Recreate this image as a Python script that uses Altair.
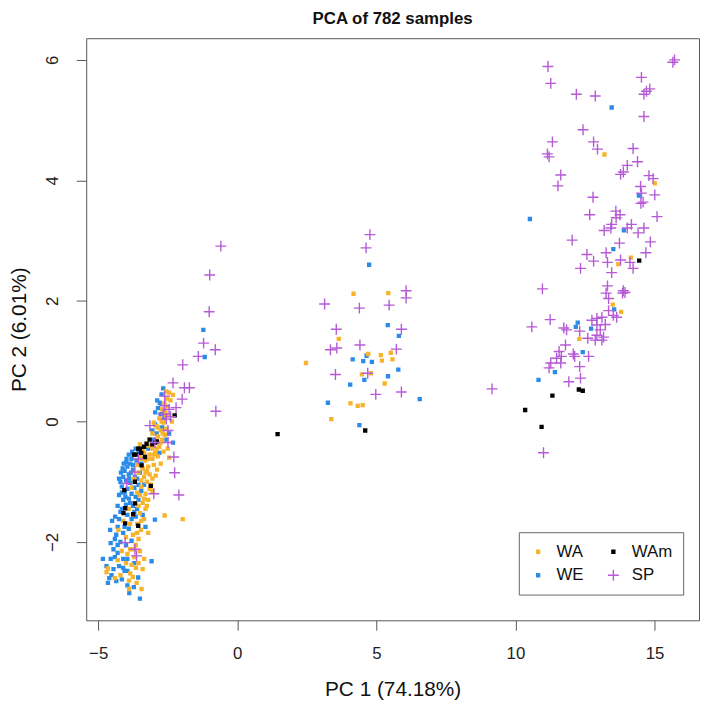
import altair as alt
import pandas as pd

# ---- data: (PC1, PC2) pairs per population ----
WE = [
    (-2.79, 0.31), (-2.66, 0.55), (-2.72, 0.45), (-2.85, 0.22), (-2.75, 0.12), (-2.62, 0.05),
    (-2.31, -0.35), (-2.45, -0.20), (-2.95, -0.05), (-3.05, -0.15),
    (-3.55, -0.50), (-3.70, -0.55), (-3.80, -0.62), (-3.85, -0.70), (-3.95, -0.75), (-4.05, -0.82),
    (-3.75, -0.80), (-3.90, -0.88), (-4.10, -0.92), (-4.00, -0.98),
    (-4.20, -1.00), (-3.85, -1.02), (-4.15, -1.08), (-3.95, -1.12), (-4.05, -1.18), (-3.70, -1.10),
    (-3.60, -0.95), (-3.50, -0.85), (-4.25, -0.95), (-4.18, -0.85),
    (-3.80, -1.20), (-3.65, -1.25), (-3.90, -1.28), (-4.10, -1.30), (-3.45, -1.15), (-3.35, -1.05),
    (-3.55, -1.30), (-4.00, -1.38), (-3.75, -1.40), (-3.60, -1.45),
    (-4.39, -1.58), (-4.20, -1.50), (-3.95, -1.55), (-3.80, -1.62), (-3.65, -1.58), (-4.57, -1.80),
    (-4.30, -1.75), (-4.10, -1.85), (-3.90, -1.78), (-2.96, -1.63),
    (-4.40, -1.95), (-4.20, -2.00), (-4.00, -2.05), (-3.80, -1.98), (-4.45, -2.12), (-4.30, -2.18),
    (-4.83, -2.28), (-4.55, -2.28), (-4.40, -2.25), (-4.10, -2.28),
    (-3.95, -2.28), (-3.08, -2.32), (-4.10, -2.43), (-3.95, -2.48), (-4.05, -2.48), (-4.60, -2.60),
    (-4.52, -2.55), (-4.65, -2.68), (-3.56, -2.59), (-3.88, -2.85),
    (-3.50, -2.94), (-3.70, -2.35), (-4.25, -2.40), (-3.30, -0.60), (-3.45, -0.70), (-3.20, -0.45),
    (-3.00, -0.30), (-2.70, -0.10), (-3.62, -0.65), (-3.75, -0.72),
    (-4.08, -0.70), (-3.98, -0.62), (-3.68, -0.92), (-3.88, -0.95), (-4.02, -1.25), (-3.55, -1.05),
    (-4.30, -1.40), (-3.40, -1.55), (-3.30, -1.75), (-4.50, -1.65),
    (-3.65, -0.45), (-3.78, -0.50), (-3.90, -0.55), (-4.00, -0.68), (-4.12, -0.78), (-3.82, -0.85),
    (-4.15, -1.18), (-4.25, -1.22), (-3.85, -1.35), (-3.70, -1.50), (-4.15, -1.45), (-4.25, -1.62),
    (-4.05, -1.75), (-4.35, -1.88), (-4.55, -2.02), (-4.30, -2.05), (-4.70, -2.40), (-4.45, -2.45),
    (-4.35, -2.65), (-4.15, -2.62), (-3.72, -2.75), (-3.95, -2.72), (-2.95, 0.15), (-2.88, 0.35),
    (-2.65, 0.20), (-2.90, -0.20), (-2.55, -0.30), (-2.80, -0.52),
    (-1.22, 1.52), (-1.17, 1.07),
    (4.74, 2.60), (5.41, 1.60), (5.81, 1.42), (4.15, 1.03), (4.53, 1.00), (4.84, 0.99), (4.65, 1.09),
    (5.79, 0.86), (5.42, 0.75), (4.57, 0.69), (4.06, 0.61), (3.26, 0.31), (6.56, 0.37), (4.39, -0.06),
    (13.46, 5.21), (10.52, 3.36), (14.44, 3.75), (13.90, 3.17), (13.52, 2.86), (12.24, 1.64),
    (12.17, 1.57), (12.72, 1.54), (13.55, 1.86), (12.42, 1.15), (11.42, 0.82), (10.83, 0.69),
]

WA = [
    (-2.31, 0.44), (-2.55, 0.50), (-2.40, 0.35), (-2.50, 0.25), (-2.62, 0.30), (-2.70, 0.20),
    (-2.45, 0.10), (-2.58, 0.15), (-2.80, 0.05), (-2.35, 0.00),
    (-2.65, -0.02), (-2.90, -0.08), (-2.75, -0.15), (-2.55, -0.12), (-3.05, -0.20), (-2.85, -0.25),
    (-2.60, -0.22), (-3.15, -0.30), (-2.95, -0.35), (-2.70, -0.30),
    (-3.25, -0.40), (-3.05, -0.45), (-2.80, -0.42), (-3.40, -0.48), (-3.15, -0.55), (-2.95, -0.52),
    (-3.50, -0.58), (-3.30, -0.65), (-3.05, -0.62), (-2.85, -0.58),
    (-3.60, -0.72), (-3.40, -0.78), (-3.20, -0.75), (-3.00, -0.72), (-2.93, -0.90), (-3.15, -0.88),
    (-3.35, -0.92), (-3.55, -0.85), (-3.25, -1.00), (-3.10, -1.05),
    (-3.45, -1.08), (-3.05, -1.15), (-3.30, -1.20), (-3.20, -1.30), (-3.40, -1.35), (-3.55, -1.40),
    (-3.30, -1.45), (-3.50, -1.52), (-2.61, -1.56), (-1.96, -1.62),
    (-3.46, -1.80), (-4.27, -1.80), (-3.60, -1.70), (-3.75, -1.88), (-3.55, -1.95), (-4.00, -1.92),
    (-3.65, -2.05), (-3.85, -2.12), (-3.50, -2.15), (-4.15, -2.15),
    (-3.70, -2.25), (-3.35, -2.28), (-4.65, -2.44), (-3.64, -2.43), (-3.80, -2.38), (-3.89, -2.64),
    (-3.89, -2.78), (-3.44, -2.78), (-4.40, -2.60), (-4.20, -2.55),
    (-3.75, -2.58), (-4.70, -2.50), (-3.95, -2.20), (-3.40, -2.45), (-2.88, -0.80), (-3.70, -0.95),
    (-3.80, -1.10), (-3.60, -1.18), (-3.90, -1.45), (-3.75, -1.55),
    (-3.65, -1.35), (-4.10, -1.65), (-3.85, -1.70), (-3.35, -1.62), (-3.20, -1.85), (-2.75, -0.70),
    (-2.50, -0.45), (-2.45, -0.60), (-2.65, -0.50), (-3.50, -0.38),
    (-3.10, -0.40), (-2.90, -0.45), (-3.00, -0.55), (-3.20, -0.62), (-3.35, -0.52), (-2.75, -0.35),
    (-2.68, -0.20), (-2.85, -0.10), (-3.00, -0.02), (-2.72, 0.00), (-2.60, 0.10), (-2.52, 0.38),
    (-2.45, 0.48), (-3.45, -0.62), (-3.25, -0.82), (-3.05, -0.95), (-3.45, -0.98), (-3.15, -1.12),
    (-3.35, -1.28), (-3.50, -1.22), (-3.25, -1.40), (-3.45, -1.65), (-3.60, -1.85), (-3.70, -2.12),
    (-3.55, -2.35), (-4.00, -2.35), (-3.62, -2.68), (-4.30, -2.30), (-3.85, -2.52), (-3.30, -0.85),
    (4.18, 2.12), (5.43, 2.13), (3.65, 1.37), (2.47, 0.97), (4.71, 1.12), (5.16, 1.10), (5.52, 1.14),
    (5.20, 1.01), (5.58, 1.03), (4.48, 0.78), (4.80, 0.80), (5.30, 0.63), (4.07, 0.30), (4.33, 0.26),
    (4.51, 0.27), (3.38, 0.04),
    (13.20, 4.43), (15.01, 3.95), (13.70, 2.61), (14.15, 2.72), (13.50, 1.94), (13.80, 1.82),
    (12.30, 1.37),
]

WAm = [
    (-2.25, 0.10), (-2.89, -0.33), (-2.95, -0.35), (-3.05, -0.38), (-3.26, -0.37), (-3.35, -0.42),
    (-3.50, -0.45), (-3.56, -0.45), (-3.72, -0.55), (-3.62, -0.55), (-3.32, -0.59), (-3.44, -0.73),
    (-3.68, -1.00), (-3.11, -1.07), (-4.06, -1.14), (-4.03, -1.44), (-3.68, -1.36), (-4.09, -1.52),
    (-3.74, -1.54), (-4.03, -1.69), (-3.56, -1.73), (-3.15, -0.30), (-3.45, -0.52),
    (1.45, -0.21), (4.60, -0.15), (14.45, 2.67), (11.33, 0.43), (12.28, 0.53), (12.42, 0.51),
    (10.35, 0.19), (10.94, -0.09),
]

SP = [
    (-0.59, 2.91), (-0.99, 2.43), (-1.01, 1.82), (-1.21, 1.30), (-0.79, 1.19), (-1.40, 1.08),
    (-1.96, 0.94), (-2.31, 0.64), (-1.90, 0.56), (-1.72, 0.56), (-1.98, 0.37), (-0.77, 0.17),
    (-2.61, 0.42), (-2.61, 0.26), (-2.45, 0.20), (-2.66, 0.12), (-2.40, 0.08), (-2.55, 0.04),
    (-2.20, 0.23), (-3.14, -0.07), (-2.49, -0.15), (-2.49, -0.35), (-2.96, -0.35), (-2.28, -0.59),
    (-3.56, -0.62), (-2.25, -0.85), (-3.68, -0.84), (-3.97, -1.03), (-3.00, -1.20), (-2.10, -1.22),
    (-4.03, -2.01), (-3.68, -2.12), (-3.62, -2.23),
    (4.77, 3.10), (4.63, 2.88), (6.07, 2.17), (6.07, 2.05), (3.14, 1.95), (4.39, 1.88), (5.46, 1.93),
    (3.56, 1.53), (5.90, 1.53), (4.41, 1.27), (3.35, 1.19), (3.58, 1.22), (5.72, 1.20), (3.53, 0.78),
    (4.69, 0.80), (4.98, 0.45), (5.90, 0.49),
    (15.72, 6.00), (15.66, 5.96), (11.17, 5.89), (11.27, 5.61), (14.53, 5.71), (14.83, 5.52),
    (14.71, 5.48), (14.62, 5.43), (12.19, 5.43), (12.87, 5.40), (14.62, 5.06), (12.43, 4.84),
    (11.33, 4.64), (12.81, 4.64), (12.95, 4.52), (11.15, 4.44), (11.21, 4.39), (14.23, 4.53),
    (14.39, 4.31), (14.02, 4.25), (13.88, 4.14), (13.78, 4.10), (11.63, 4.09), (11.53, 3.91),
    (14.80, 4.08), (14.95, 4.03), (14.50, 3.90), (15.01, 3.76), (14.53, 3.79), (14.59, 3.64),
    (14.51, 3.62), (12.79, 3.72), (12.67, 3.43), (13.61, 3.49), (13.76, 3.43), (13.62, 3.38),
    (15.09, 3.40), (13.46, 3.27), (13.43, 3.21), (13.19, 3.17), (14.17, 3.27), (14.02, 3.21),
    (14.62, 3.21), (14.41, 3.13), (12.04, 3.01), (13.74, 2.96), (14.85, 2.98), (12.57, 2.77),
    (12.81, 2.66), (12.34, 2.54), (13.26, 2.80), (13.31, 2.64), (13.46, 2.47), (14.69, 2.80),
    (13.78, 2.68), (14.12, 2.64), (14.23, 2.54),
    (10.97, 2.20), (13.31, 2.25), (13.26, 2.13), (13.35, 2.04), (13.88, 2.17), (13.94, 2.14),
    (13.85, 2.13), (13.35, 1.84), (13.52, 1.76), (13.64, 1.73), (11.25, 1.69), (10.59, 1.57),
    (11.74, 1.55), (11.84, 1.52), (12.75, 1.68), (12.93, 1.71), (13.11, 1.73), (13.23, 1.61),
    (12.93, 1.60), (13.05, 1.52), (12.93, 1.43), (13.17, 1.40), (12.87, 1.35), (13.11, 1.35),
    (12.60, 1.38), (12.31, 1.50), (11.80, 1.27), (11.57, 1.16), (11.65, 1.08), (11.48, 1.05),
    (12.08, 1.12), (12.13, 1.08), (12.63, 1.08), (11.63, 0.97), (11.27, 0.97), (11.21, 0.89),
    (12.31, 0.91), (12.34, 0.72), (11.92, 0.66), (9.16, 0.54), (11.01, -0.52),
]

# legend fills column by column: WA, WE in the first column, WAm, SP in the second
GROUPS = ["WA", "WE", "WAm", "SP"]
COLORS = ["#F6B42C", "#2B8CE8", "#000000", "#B65AD6"]
X_TICKS = [-5, 0, 5, 10, 15]
Y_TICKS = [-2, 0, 2, 4, 6]

SQUARE = "M-0.27,-0.27H0.27V0.27H-0.27Z"
PLUS = "M-1,0L1,0M0,-1L0,1"
SHAPES = [SQUARE, SQUARE, SQUARE, PLUS]

rows = []
for name, pts in [("WE", WE), ("WA", WA), ("WAm", WAm), ("SP", SP)]:
    for px, py in pts:
        rows.append({"pc1": px, "pc2": py, "group": name})
df = pd.DataFrame(rows)

FONT = "Liberation Sans"

legend = alt.Legend(
    title=None, orient="none", legendX=437, legendY=499, columns=2,
    padding=11, strokeColor="#666666", fillColor="white",
    labelFontSize=17, labelFont=FONT, labelColor="#111111",
    symbolSize=121, symbolStrokeWidth=1.4, labelOffset=10,
    columnPadding=21, rowPadding=6,
)

chart = alt.Chart(df).mark_point(
    filled=False, size=121, strokeWidth=1.4, opacity=1
).encode(
    x=alt.X("pc1:Q",
            scale=alt.Scale(domain=[-5.43, 16.6], nice=False, zero=False),
            axis=alt.Axis(values=X_TICKS, title="PC 1 (74.18%)", grid=False, domain=False,
                          tickSize=10, tickColor="#555555", labelFontSize=17, labelFont=FONT,
                          labelColor="#222222", labelPadding=16, titleFontSize=21,
                          titleFont=FONT, titleFontWeight="normal", titleColor="#111111",
                          titlePadding=17)),
    y=alt.Y("pc2:Q",
            scale=alt.Scale(domain=[-3.3, 6.36], nice=False, zero=False),
            axis=alt.Axis(values=Y_TICKS, title="PC 2 (6.01%)", grid=False, domain=False,
                          tickSize=10, tickColor="#555555", labelFontSize=17, labelFont=FONT,
                          labelColor="#222222", labelPadding=15, labelAngle=270,
                          labelAlign="center", labelBaseline="bottom",
                          titleFontSize=21, titleFont=FONT, titleFontWeight="normal",
                          titleColor="#111111", titlePadding=14)),
    color=alt.Color("group:N", scale=alt.Scale(domain=GROUPS, range=COLORS), legend=legend),
    fill=alt.Fill("group:N", scale=alt.Scale(domain=GROUPS, range=COLORS), legend=legend),
    shape=alt.Shape("group:N", scale=alt.Scale(domain=GROUPS, range=SHAPES), legend=legend),
).properties(
    width=619, height=588,
    title=alt.TitleParams("PCA of 782 samples", fontSize=17, fontWeight="bold", font=FONT,
                          anchor="middle", baseline="top", offset=10, color="#111111"),
    padding={"left": 79, "top": 27, "right": 1, "bottom": 80},
    autosize=alt.AutoSizeParams(type="none"),
).configure_view(
    stroke="#555555", strokeWidth=1
)

chart.save("out.html", embed_options={"renderer": "svg", "actions": False})
